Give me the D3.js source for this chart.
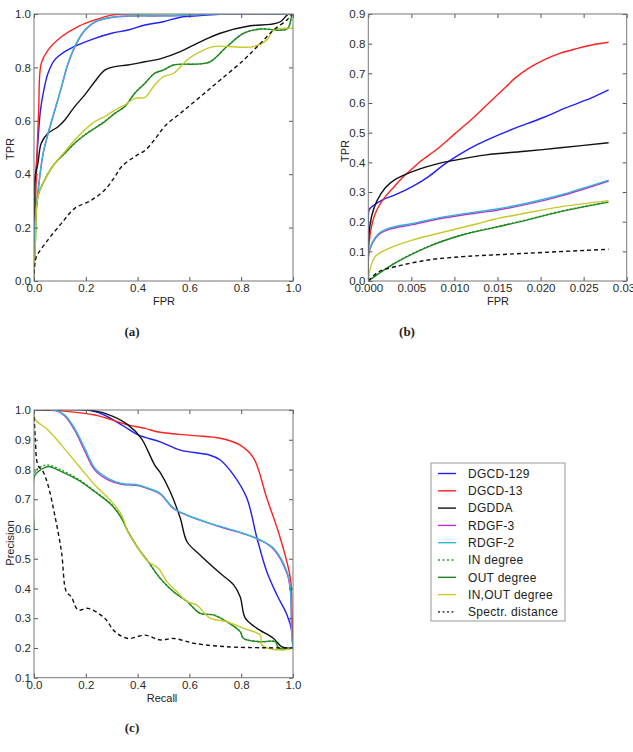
<!DOCTYPE html>
<html>
<head>
<meta charset="utf-8">
<script src="https://cdn.jsdelivr.net/npm/d3@7"></script>
<style>
  body { margin: 0; background: #fff; }
  text { font-family: "Liberation Sans", Arial, sans-serif; fill: #222; }
  .tick text { font-size: 11.5px; fill: #2a2a2a; }
  .axis-label { font-size: 11px; }
  .caption { font-family: "Liberation Serif", "DejaVu Serif", serif; font-weight: bold; font-size: 13px; }
  .legend-label { font-size: 12px; letter-spacing: 0.3px; }
</style>
</head>
<body>
<svg id="fig" width="633" height="752"></svg>
<script>
// ---- tick labels ----
const ticksRoc = [0, 0.2, 0.4, 0.6, 0.8, 1.0];
const ticksZoomX = [0, 0.005, 0.010, 0.015, 0.020, 0.025, 0.030];
const ticksZoomY = [0, 0.1, 0.2, 0.3, 0.4, 0.5, 0.6, 0.7, 0.8, 0.9];
const ticksPrY = [0.1, 0.2, 0.3, 0.4, 0.5, 0.6, 0.7, 0.8, 0.9, 1.0];

// ---- (a) ROC, full range: [FPR, TPR] ----
const aDGCD129 = [[0,0],[0,0.3],[0.008,0.42],[0.015,0.52],[0.025,0.64],[0.035,0.7],[0.054,0.778],[0.08,0.828],[0.119,0.859],[0.17,0.884],[0.235,0.909],[0.3,0.928],[0.363,0.94],[0.428,0.959],[0.499,0.971],[0.565,0.988],[0.642,0.994],[0.732,1.0],[1,1]];
const aDGCD13 = [[0,0],[0.003,0.2],[0.009,0.39],[0.018,0.64],[0.028,0.815],[0.054,0.865],[0.106,0.915],[0.17,0.953],[0.235,0.978],[0.3,0.996],[0.338,1.0],[1,1]];
const aDGDDA = [[0,0],[0.002,0.3],[0.004,0.39],[0.015,0.44],[0.028,0.516],[0.054,0.553],[0.093,0.578],[0.119,0.603],[0.157,0.653],[0.196,0.697],[0.235,0.747],[0.273,0.79],[0.312,0.803],[0.363,0.809],[0.428,0.821],[0.487,0.832],[0.565,0.859],[0.642,0.896],[0.719,0.928],[0.835,0.956],[0.912,0.961],[0.951,0.971],[0.983,1.0],[1,1]];
const aRDGF3 = [[0,0],[0.003,0.2],[0.015,0.33],[0.035,0.475],[0.054,0.55],[0.08,0.637],[0.106,0.725],[0.131,0.812],[0.17,0.9],[0.196,0.938],[0.235,0.97],[0.3,0.987],[0.363,0.992],[0.5,0.993],[0.6,0.996],[0.7,1.0],[1,1]];
const aRDGF2 = [[0,0],[0.003,0.2],[0.015,0.33],[0.035,0.478],[0.054,0.553],[0.08,0.64],[0.106,0.728],[0.131,0.815],[0.17,0.903],[0.196,0.94],[0.235,0.971],[0.3,0.988],[0.363,0.993],[0.5,0.993],[0.6,0.996],[0.7,1.0],[1,1]];
const aIN = [[0,0],[0.001,0.05],[0.005,0.14],[0.015,0.316],[0.041,0.378],[0.08,0.44],[0.119,0.478],[0.157,0.516],[0.196,0.548],[0.235,0.573],[0.273,0.598],[0.312,0.628],[0.35,0.654],[0.389,0.703],[0.428,0.741],[0.466,0.778],[0.499,0.79],[0.539,0.809],[0.642,0.813],[0.68,0.821],[0.745,0.878],[0.81,0.928],[0.874,0.944],[0.977,0.944],[0.996,0.996],[1,1]];
const aOUT = [[0,0],[0.001,0.05],[0.005,0.14],[0.015,0.316],[0.041,0.378],[0.08,0.44],[0.119,0.478],[0.157,0.516],[0.196,0.547],[0.235,0.572],[0.273,0.597],[0.312,0.628],[0.35,0.653],[0.389,0.703],[0.428,0.74],[0.466,0.778],[0.499,0.79],[0.539,0.809],[0.642,0.813],[0.68,0.821],[0.745,0.878],[0.81,0.928],[0.874,0.944],[0.977,0.944],[0.996,0.996],[1,1]];
const aINOUT = [[0,0],[0.001,0.05],[0.005,0.14],[0.015,0.316],[0.041,0.378],[0.08,0.44],[0.119,0.484],[0.157,0.528],[0.196,0.566],[0.235,0.597],[0.273,0.616],[0.312,0.64],[0.35,0.659],[0.389,0.684],[0.428,0.688],[0.466,0.734],[0.499,0.765],[0.539,0.778],[0.591,0.828],[0.642,0.859],[0.693,0.878],[0.848,0.878],[0.899,0.903],[0.925,0.94],[1,0.946]];
const aSpectr = [[0,0],[0.002,0.05],[0.009,0.09],[0.054,0.154],[0.106,0.216],[0.157,0.272],[0.222,0.303],[0.273,0.341],[0.312,0.39],[0.338,0.428],[0.389,0.466],[0.43,0.49],[0.47,0.535],[0.505,0.58],[0.565,0.628],[0.642,0.69],[0.719,0.753],[0.81,0.828],[0.874,0.89],[0.925,0.94],[0.977,0.978],[0.996,1.0]];

// ---- (b) ROC, low FPR ----
const bDGCD129 = [[0,0],[0,0.2],[0.0001,0.24],[0.0004,0.25],[0.0016,0.273],[0.0031,0.29],[0.0051,0.318],[0.007,0.352],[0.0089,0.395],[0.0109,0.432],[0.0128,0.462],[0.0146,0.486],[0.0165,0.509],[0.0185,0.531],[0.0204,0.552],[0.0223,0.576],[0.0243,0.599],[0.0262,0.621],[0.0279,0.644]];
const bDGCD13 = [[0,0],[0.0001,0.13],[0.0005,0.2],[0.001,0.24],[0.002,0.285],[0.003,0.318],[0.004,0.35],[0.005,0.376],[0.006,0.402],[0.008,0.445],[0.010,0.495],[0.012,0.545],[0.014,0.6],[0.016,0.655],[0.017,0.683],[0.0185,0.715],[0.0204,0.745],[0.0223,0.768],[0.0243,0.784],[0.0262,0.797],[0.0279,0.805]];
const bDGDDA = [[0,0],[0,0.13],[0.0004,0.22],[0.001,0.27],[0.002,0.315],[0.003,0.34],[0.004,0.355],[0.006,0.378],[0.008,0.395],[0.01,0.407],[0.0137,0.425],[0.0185,0.438],[0.0223,0.449],[0.0279,0.466]];
const bRDGF3 = [[0,0],[0,0.08],[0.0004,0.123],[0.0012,0.156],[0.0024,0.174],[0.0051,0.19],[0.0089,0.213],[0.0128,0.23],[0.0146,0.237],[0.0185,0.259],[0.0223,0.286],[0.0279,0.337]];
const bRDGF2 = [[0,0],[0,0.08],[0.0004,0.127],[0.0012,0.16],[0.0024,0.178],[0.0051,0.194],[0.0089,0.217],[0.0128,0.234],[0.0146,0.241],[0.0185,0.263],[0.0223,0.29],[0.0279,0.34]];
const bIN = [[0,0],[0.0031,0.061],[0.007,0.117],[0.0109,0.156],[0.0146,0.181],[0.0185,0.207],[0.0223,0.235],[0.0279,0.267]];
const bOUT = [[0,0],[0.0031,0.06],[0.007,0.116],[0.0109,0.155],[0.0146,0.18],[0.0185,0.206],[0.0223,0.234],[0.0279,0.266]];
const bINOUT = [[0,0],[0.0001,0.026],[0.0008,0.082],[0.0024,0.11],[0.0051,0.138],[0.0089,0.166],[0.0128,0.194],[0.0146,0.208],[0.0185,0.23],[0.0223,0.25],[0.0279,0.271]];
const bSpectr = [[0,0],[0.0012,0.031],[0.0031,0.048],[0.007,0.071],[0.0109,0.082],[0.0146,0.088],[0.0279,0.107]];

// ---- (c) precision / recall: [Recall, Precision] ----
const cDGCD129 = [[0,1],[0.235,0.995],[0.338,0.95],[0.402,0.916],[0.487,0.893],[0.565,0.865],[0.68,0.848],[0.719,0.832],[0.771,0.781],[0.822,0.703],[0.861,0.569],[0.899,0.456],[0.938,0.378],[0.977,0.311],[0.996,0.255],[1,0.2]];
const cDGCD13 = [[0,1],[0.106,0.997],[0.235,0.983],[0.363,0.95],[0.428,0.938],[0.487,0.925],[0.616,0.914],[0.719,0.905],[0.796,0.882],[0.848,0.838],[0.899,0.703],[0.951,0.569],[0.99,0.434],[0.996,0.32],[1,0.2]];
const cDGDDA = [[0,1],[0.235,0.997],[0.3,0.98],[0.363,0.95],[0.415,0.904],[0.441,0.86],[0.466,0.815],[0.487,0.79],[0.526,0.725],[0.565,0.636],[0.591,0.557],[0.642,0.512],[0.719,0.451],[0.771,0.412],[0.796,0.372],[0.816,0.3],[0.861,0.266],[0.925,0.232],[0.957,0.204],[1,0.199]];
const cRDGF3 = [[0,1],[0.08,1.0],[0.119,0.98],[0.157,0.932],[0.196,0.862],[0.235,0.798],[0.286,0.765],[0.338,0.75],[0.402,0.746],[0.441,0.735],[0.487,0.718],[0.539,0.668],[0.591,0.646],[0.68,0.618],[0.745,0.6],[0.809,0.584],[0.874,0.562],[0.925,0.532],[0.977,0.45],[0.99,0.39],[0.995,0.25],[1,0.2]];
const cRDGF2 = [[0,1],[0.08,1.0],[0.119,0.983],[0.157,0.938],[0.196,0.871],[0.235,0.804],[0.286,0.77],[0.338,0.753],[0.402,0.748],[0.441,0.737],[0.487,0.72],[0.539,0.67],[0.591,0.647],[0.68,0.619],[0.745,0.602],[0.809,0.585],[0.874,0.563],[0.925,0.535],[0.977,0.456],[0.99,0.4],[0.995,0.25],[1,0.2]];
const cIN = [[0,0.6],[0.003,0.79],[0.028,0.81],[0.054,0.815],[0.106,0.798],[0.17,0.768],[0.235,0.727],[0.3,0.682],[0.338,0.638],[0.363,0.592],[0.402,0.536],[0.441,0.49],[0.487,0.434],[0.539,0.389],[0.591,0.356],[0.642,0.316],[0.693,0.311],[0.745,0.288],[0.796,0.255],[0.809,0.232],[0.874,0.221],[0.932,0.221],[0.945,0.199],[1,0.2]];
const cOUT = [[0,0.6],[0.003,0.78],[0.028,0.8],[0.054,0.81],[0.106,0.793],[0.17,0.765],[0.235,0.725],[0.3,0.68],[0.338,0.636],[0.363,0.59],[0.402,0.535],[0.441,0.49],[0.487,0.434],[0.539,0.389],[0.591,0.356],[0.642,0.316],[0.693,0.311],[0.745,0.288],[0.796,0.255],[0.809,0.232],[0.874,0.221],[0.932,0.221],[0.945,0.199],[1,0.2]];
const cINOUT = [[0,1],[0.003,0.97],[0.054,0.933],[0.106,0.882],[0.17,0.815],[0.235,0.748],[0.3,0.692],[0.338,0.647],[0.363,0.59],[0.402,0.535],[0.441,0.49],[0.48,0.468],[0.513,0.423],[0.552,0.389],[0.591,0.356],[0.629,0.344],[0.68,0.3],[0.745,0.288],[0.809,0.266],[0.874,0.243],[0.88,0.21],[0.951,0.193],[1,0.2]];
const cSpectr = [[0,1],[0.005,0.905],[0.015,0.815],[0.035,0.793],[0.054,0.748],[0.08,0.647],[0.106,0.524],[0.125,0.389],[0.144,0.372],[0.17,0.328],[0.209,0.333],[0.273,0.3],[0.312,0.255],[0.363,0.232],[0.428,0.243],[0.487,0.227],[0.539,0.232],[0.616,0.216],[0.745,0.204],[1,0.2]];

// series style, legend order = draw order
const SERIES = [
  { label: "DGCD-129",         color: "#1f1fff", dash: null },
  { label: "DGCD-13",          color: "#ff2020", dash: null },
  { label: "DGDDA",            color: "#111111", dash: null },
  { label: "RDGF-3",           color: "#c030c8", dash: null },
  { label: "RDGF-2",           color: "#30b8d8", dash: null },
  { label: "IN degree",        color: "#2a9a2a", dash: "2,2" },
  { label: "OUT degree",       color: "#1f8a1f", dash: null },
  { label: "IN,OUT degree",    color: "#c8c82a", dash: null },
  { label: "Spectr. distance", color: "#111111", dash: "4,3" }
];

const panels = [
  { id: "a", box: [34, 14, 293, 281], xDom: [0, 1], yDom: [0, 1],
    xTicks: ticksRoc, yTicks: ticksRoc, xFmt: ".1f", yFmt: ".1f",
    xLabel: "FPR", yLabel: "TPR", labelPos: [[164, 301], [10, 149]],
    caption: "(a)", capPos: [132, 336],
    data: [aDGCD129, aDGCD13, aDGDDA, aRDGF3, aRDGF2, aIN, aOUT, aINOUT, aSpectr] },
  { id: "b", box: [368.3, 14, 626.7, 281], xDom: [0, 0.03], yDom: [0, 0.9],
    xTicks: ticksZoomX, yTicks: ticksZoomY, xFmt: ".3f", yFmt: ".1f",
    xLabel: "FPR", yLabel: "TPR", labelPos: [[498, 301], [345, 151]],
    caption: "(b)", capPos: [407, 336],
    data: [bDGCD129, bDGCD13, bDGDDA, bRDGF3, bRDGF2, bIN, bOUT, bINOUT, bSpectr] },
  { id: "c", box: [34, 410, 293, 677.7], xDom: [0, 1], yDom: [0.1, 1],
    xTicks: ticksRoc, yTicks: ticksPrY, xFmt: ".1f", yFmt: ".1f",
    xLabel: "Recall", yLabel: "Precision", labelPos: [[162, 698], [10, 543]],
    caption: "(c)", capPos: [132, 732],
    data: [cDGCD129, cDGCD13, cDGDDA, cRDGF3, cRDGF2, cIN, cOUT, cINOUT, cSpectr] }
];

const svg = d3.select("#fig");
svg.append("rect").attr("width", 633).attr("height", 752).attr("fill", "#fff");

panels.forEach(p => {
  const [x0, y0, x1, y1] = p.box;
  const x = d3.scaleLinear().domain(p.xDom).range([x0, x1]);
  const y = d3.scaleLinear().domain(p.yDom).range([y1, y0]);

  svg.append("clipPath").attr("id", "clip-" + p.id)
    .append("rect").attr("x", x0).attr("y", y0).attr("width", x1 - x0).attr("height", y1 - y0);

  const line = d3.line()
    .x(d => x(d[0])).y(d => y(d[1]))
    .curve(d3.curveCatmullRom.alpha(0.5));

  const g = svg.append("g").attr("clip-path", `url(#clip-${p.id})`);
  p.data.forEach((pts, i) => {
    const s = SERIES[i];
    g.append("path")
      .attr("d", line(pts))
      .attr("fill", "none")
      .attr("stroke", s.color)
      .attr("stroke-width", 1.4)
      .attr("stroke-dasharray", s.dash)
      .attr("stroke-linejoin", "round");
  });

  // axes: inward ticks on every side
  const styleAxis = sel => {
    sel.select(".domain").remove();
    sel.selectAll(".tick line").attr("stroke", "#555");
  };
  svg.append("g").attr("transform", `translate(0,${y1})`)
    .call(d3.axisBottom(x).tickValues(p.xTicks).tickFormat(d3.format(p.xFmt)).tickSize(-4).tickPadding(3))
    .call(styleAxis);
  svg.append("g").attr("transform", `translate(${x0},0)`)
    .call(d3.axisLeft(y).tickValues(p.yTicks).tickFormat(d3.format(p.yFmt)).tickSize(-4).tickPadding(3))
    .call(styleAxis);
  svg.append("g").attr("transform", `translate(0,${y0})`)
    .call(d3.axisTop(x).tickValues(p.xTicks).tickFormat("").tickSize(-4))
    .call(styleAxis);
  svg.append("g").attr("transform", `translate(${x1},0)`)
    .call(d3.axisRight(y).tickValues(p.yTicks).tickFormat("").tickSize(-4))
    .call(styleAxis);
  svg.selectAll(".tick text").attr("font-family", null).attr("font-size", null);

  svg.append("rect")
    .attr("x", x0).attr("y", y0).attr("width", x1 - x0).attr("height", y1 - y0)
    .attr("fill", "none").attr("stroke", "#777").attr("stroke-width", 1);

  svg.append("text").attr("class", "axis-label")
    .attr("x", p.labelPos[0][0]).attr("y", p.labelPos[0][1])
    .attr("text-anchor", "middle").attr("dy", "0.35em").text(p.xLabel);
  svg.append("text").attr("class", "axis-label")
    .attr("transform", `translate(${p.labelPos[1][0]},${p.labelPos[1][1]}) rotate(-90)`)
    .attr("text-anchor", "middle").attr("dy", "0.35em").text(p.yLabel);

  svg.append("text").attr("class", "caption")
    .attr("x", p.capPos[0]).attr("y", p.capPos[1])
    .attr("text-anchor", "middle").text(p.caption);
});

// legend
const leg = svg.append("g").attr("transform", "translate(431,463)");
leg.append("rect").attr("width", 134).attr("height", 158)
  .attr("fill", "#fff").attr("stroke", "#999").attr("stroke-width", 1);
SERIES.forEach((s, i) => {
  const ry = 10.5 + i * 17.3;
  leg.append("line")
    .attr("x1", 7).attr("x2", 25).attr("y1", ry).attr("y2", ry)
    .attr("stroke", s.color).attr("stroke-width", 1.4)
    .attr("stroke-dasharray", s.dash ? "2,2.5" : null);
  leg.append("text").attr("class", "legend-label")
    .attr("x", 37).attr("y", ry).attr("dy", "0.35em").text(s.label);
});
</script>
</body>
</html>
